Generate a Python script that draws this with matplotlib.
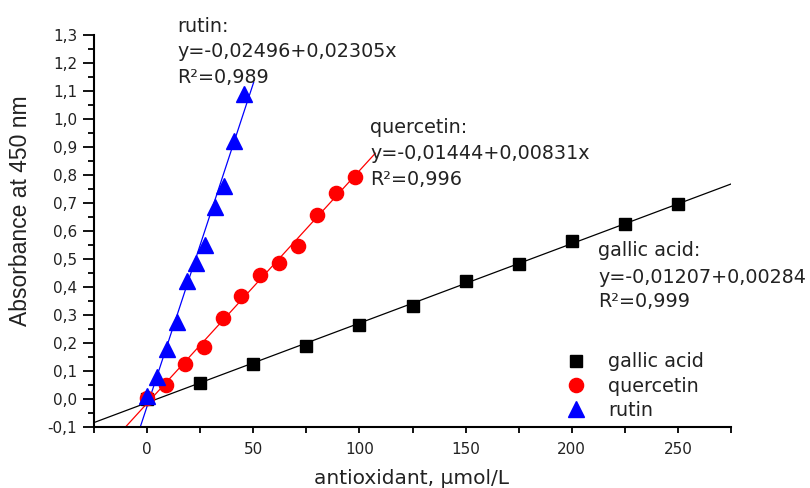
import matplotlib
matplotlib.use("Agg")
import matplotlib.pyplot as plt
import numpy as np

# ---- data ----
gallic_x = [0, 25, 50, 75, 100, 125, 150, 175, 200, 225, 250]
gallic_y = [0.000, 0.060, 0.125, 0.192, 0.267, 0.335, 0.422, 0.482, 0.565, 0.627, 0.697]

quer_x = [0, 8.9, 17.8, 26.7, 35.6, 44.4, 53.3, 62.2, 71.1, 80.0, 88.9, 97.8]
quer_y = [0.005, 0.050, 0.125, 0.186, 0.291, 0.368, 0.444, 0.487, 0.547, 0.658, 0.737, 0.795]

rutin_x = [0, 4.9, 9.4, 14.0, 18.6, 23.0, 27.4, 31.9, 36.3, 41.0, 45.5]
rutin_y = [0.012, 0.080, 0.180, 0.277, 0.424, 0.488, 0.551, 0.688, 0.762, 0.922, 1.090]

# fitted lines: intercept, slope, x-range of drawn line
gallic_fit = (-0.01207, 0.00284, (-25, 275))
quer_fit = (-0.01444, 0.00831, (-25, 107.5))
rutin_fit = (-0.02496, 0.02305, (-25, 50.2))

xticks = [0, 50, 100, 150, 200, 250]
xtick_labels = ["0", "50", "100", "150", "200", "250"]
yticks = [-0.1, 0.0, 0.1, 0.2, 0.3, 0.4, 0.5, 0.6, 0.7, 0.8, 0.9, 1.0, 1.1, 1.2, 1.3]
ytick_labels = ["-0,1", "0,0", "0,1", "0,2", "0,3", "0,4", "0,5", "0,6", "0,7",
                "0,8", "0,9", "1,0", "1,1", "1,2", "1,3"]

W, H = 810, 488
fig = plt.figure(figsize=(W / 100, H / 100), dpi=100)
ax = fig.add_axes([94 / W, 1 - 427.3 / H, (731 - 94) / W, (427.3 - 35.3) / H])

def fit_line(fit, color):
    a, b, (x0, x1) = fit
    xs = np.array([x0, x1])
    ax.plot(xs, a + b * xs, color=color, lw=0.9, zorder=2)

fit_line(gallic_fit, "black")
fit_line(quer_fit, "red")
fit_line(rutin_fit, "blue")

ax.plot(gallic_x, gallic_y, ls="none", marker="s", ms=9.2, color="black",
        mec="black", zorder=3, label="gallic acid")
ax.plot(quer_x, quer_y, ls="none", marker="o", ms=10.2, color="red",
        mec="red", zorder=3, label="quercetin")
ax.plot(rutin_x, rutin_y, ls="none", marker="^", ms=11.5, color="blue",
        mec="blue", zorder=3, label="rutin")

ax.set_xlim(-25, 275)
ax.set_ylim(-0.1, 1.3)
ax.spines["top"].set_visible(False)
ax.spines["right"].set_visible(False)
for s in ("left", "bottom"):
    ax.spines[s].set_linewidth(1.5)

ax.set_xticks(xticks)
ax.set_xticklabels(xtick_labels)
ax.set_xticks(np.arange(-25, 276, 25), minor=True)
ax.set_yticks(yticks)
ax.set_yticklabels(ytick_labels)
ax.set_yticks(np.arange(-0.1, 1.31, 0.05), minor=True)

ax.tick_params(axis="both", which="both", direction="out", width=1.3, labelsize=11,
               colors="black")
ax.tick_params(axis="y", which="major", length=8, pad=4)
ax.tick_params(axis="y", which="minor", length=4.5)
ax.tick_params(axis="x", which="major", length=4.5, pad=6)
ax.tick_params(axis="x", which="minor", length=4)
for lab in ax.get_xticklabels() + ax.get_yticklabels():
    lab.set_color("#222222")

fig.text(21 / W, 1 - 211 / H, "Absorbance at 450 nm", rotation=90, ha="center",
         va="center", fontsize=16.5, family=["Liberation Sans Narrow", "Liberation Sans", "DejaVu Sans"],
         color="#222222")
fig.text(411.5 / W, 1 - 484 / H, "antioxidant, \u03bcmol/L", ha="center", va="baseline",
         fontsize=14.5, color="#222222")

def annot(x, baselines, lines):
    for yb, t in zip(baselines, lines):
        fig.text(x / W, 1 - yb / H, t, ha="left", va="baseline", fontsize=13.8,
                 color="#222222")

annot(177, [32, 57, 83], ["rutin:", "y=-0,02496+0,02305x", "R\u00b2=0,989"])
annot(370, [133, 158.5, 185], ["quercetin:", "y=-0,01444+0,00831x", "R\u00b2=0,996"])
annot(598, [256, 283, 307], ["gallic acid:", "y=-0,01207+0,00284", "R\u00b2=0,999"])

leg = ax.legend(loc="lower left", bbox_to_anchor=(564 / W, 1 - 420 / H),
                bbox_transform=fig.transFigure, frameon=False, fontsize=13.8,
                handlelength=1.2, handletextpad=1.1, labelspacing=0.28,
                borderpad=0, borderaxespad=0)
for t in leg.get_texts():
    t.set_color("#222222")

fig.savefig("out.png", dpi=100)
